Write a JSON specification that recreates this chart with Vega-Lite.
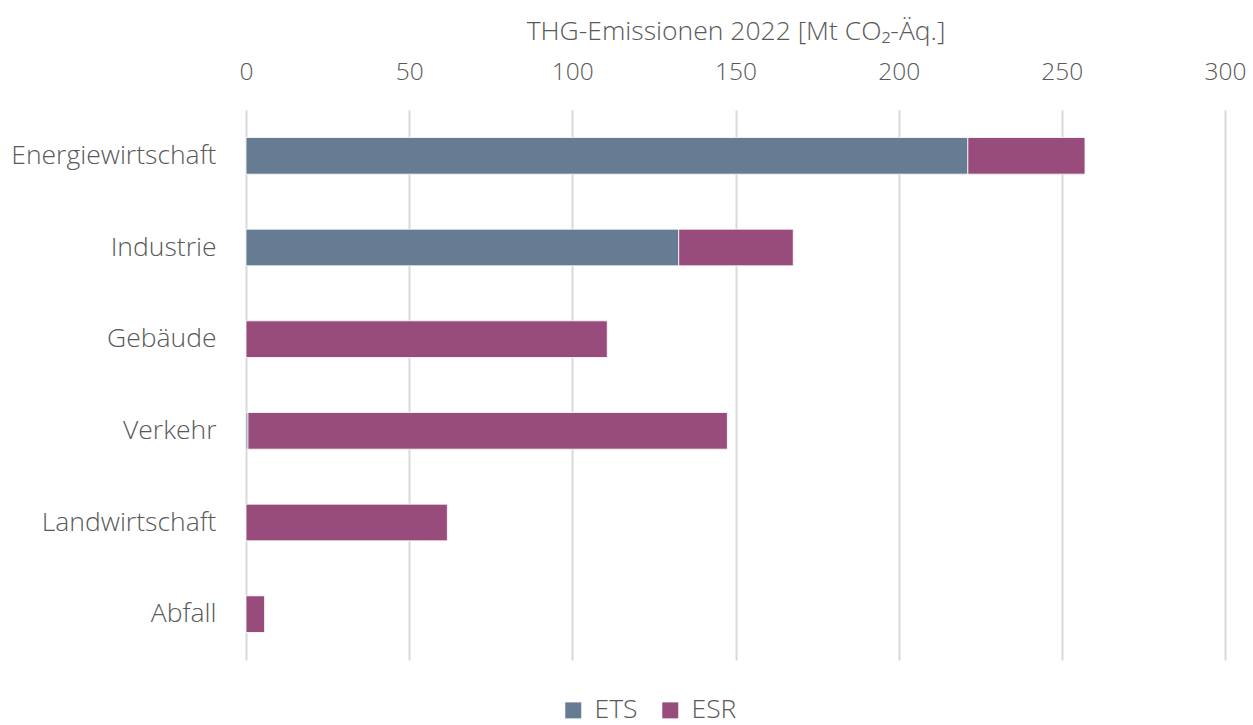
{
  "$schema": "https://vega.github.io/schema/vega-lite/v6.json",
  "width": 979,
  "height": 550,
  "autosize": {"type": "none"},
  "padding": {"left": 246, "top": 110, "right": 28, "bottom": 65},
  "background": "white",
  "config": {
    "font": "Open Sans",
    "view": {"stroke": null},
    "axis": {"labelFont": "Open Sans", "titleFont": "Open Sans", "labelFontWeight": 300, "titleFontWeight": 300, "labelColor": "#595959", "titleColor": "#595959"}
  },
  "data": {
    "values": [
      {"sector": "Energiewirtschaft", "type": "ETS", "value": 221.2},
      {"sector": "Energiewirtschaft", "type": "ESR", "value": 35.9},
      {"sector": "Industrie", "type": "ETS", "value": 132.6},
      {"sector": "Industrie", "type": "ESR", "value": 35.1},
      {"sector": "Gebäude", "type": "ETS", "value": 0},
      {"sector": "Gebäude", "type": "ESR", "value": 110.7},
      {"sector": "Verkehr", "type": "ETS", "value": 0.6},
      {"sector": "Verkehr", "type": "ESR", "value": 146.9},
      {"sector": "Landwirtschaft", "type": "ETS", "value": 0},
      {"sector": "Landwirtschaft", "type": "ESR", "value": 61.7},
      {"sector": "Abfall", "type": "ETS", "value": 0},
      {"sector": "Abfall", "type": "ESR", "value": 5.7}
    ]
  },
  "mark": {"type": "bar", "stroke": "white", "strokeWidth": 0.8},
  "encoding": {
    "y": {
      "field": "sector",
      "type": "nominal",
      "sort": ["Energiewirtschaft", "Industrie", "Gebäude", "Verkehr", "Landwirtschaft", "Abfall"],
      "scale": {"paddingInner": 0.6, "paddingOuter": 0.3},
      "axis": {"title": null, "ticks": false, "domain": false, "labelFontSize": 26.5, "labelPadding": 30, "labelLimit": 300}
    },
    "x": {
      "field": "value",
      "type": "quantitative",
      "stack": "zero",
      "scale": {"domain": [0, 300], "nice": false},
      "axis": {
        "orient": "top",
        "title": "THG-Emissionen 2022 [Mt CO₂-Äq.]",
        "titleFontSize": 26.5,
        "titlePadding": 14,
        "values": [0, 50, 100, 150, 200, 250, 300],
        "ticks": false,
        "domain": false,
        "labelFontSize": 24.5,
        "labelPadding": 26,
        "labelFlush": false,
        "grid": true,
        "gridColor": "#d9d9d9",
        "gridWidth": 2
      }
    },
    "color": {
      "field": "type",
      "type": "nominal",
      "scale": {"domain": ["ETS", "ESR"], "range": ["#667c93", "#974c7c"]},
      "legend": {
        "title": null,
        "orient": "none",
        "direction": "horizontal",
        "legendX": 314,
        "legendY": 587,
        "symbolType": "square",
        "symbolSize": 256,
        "symbolStrokeWidth": 0,
        "labelFontSize": 26.5,
        "labelFont": "Open Sans",
        "labelFontWeight": 300,
        "labelColor": "#595959",
        "columnPadding": 19,
        "labelOffset": 8
      }
    },
    "order": {"field": "type", "sort": "descending"}
  }
}
